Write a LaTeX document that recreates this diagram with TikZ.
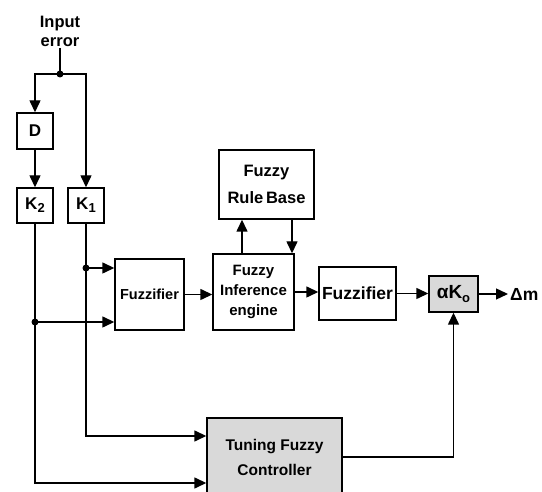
\documentclass[tikz,border=0pt]{standalone}
\usepackage{fontspec}
\setmainfont{Liberation Sans}
\usetikzlibrary{arrows.meta}
\begin{document}
\begin{tikzpicture}[x=1pt,y=-1pt, line width=1.4pt,
  box/.style={draw, line width=1.4pt, inner sep=0pt, align=center},
  arr/.style={-{Triangle[length=12pt,width=11pt]}},
  dot/.style={circle, fill, inner sep=0pt, minimum size=7pt},
  greybox/.style={box, fill=gray!30}]
\useasboundingbox (0,0) rectangle (542,492);
\clip (0,0) rectangle (542,492);
% input
\node[align=center, inner sep=1pt, font=\bfseries\fontsize{16.5}{19}\selectfont] (in) at (60,31) {Input\\error};
\node[dot] (j) at (60,74) {};
% gain boxes
\node[box, minimum width=36pt, minimum height=36pt, font=\bfseries\fontsize{17}{20}\selectfont] (D) at (35,131) {D};
\node[box, minimum width=36pt, minimum height=35pt, font=\bfseries\fontsize{17}{20}\selectfont] (K2) at (35,205.5) {K\raisebox{-0.35ex}{\fontsize{13}{13}\selectfont 2}};
\node[box, minimum width=36pt, minimum height=35pt, font=\bfseries\fontsize{17}{20}\selectfont] (K1) at (86,205.5) {K\raisebox{-0.35ex}{\fontsize{13}{13}\selectfont 1}};
% main chain
\node[box, minimum width=69pt, minimum height=71pt, font=\bfseries\fontsize{14.5}{18}\selectfont] (F1) at (149.5,294.5) {Fuzzifier};
\node[box, minimum width=81pt, minimum height=76pt, font=\bfseries\fontsize{15}{20}\selectfont] (I) at (253.5,292) {Fuzzy\\Inference\\engine};
\node[box, minimum width=95pt, minimum height=69pt, font=\bfseries\fontsize{16.5}{27}\selectfont] (R) at (266.5,184.5) {Fuzzy\\Rule\,Base};
\node[box, minimum width=77pt, minimum height=53pt, font=\bfseries\fontsize{17.5}{20}\selectfont] (F2) at (357.5,293.5) {Fuzzifier};
\node[greybox, minimum width=49pt, minimum height=36pt, font=\bfseries\fontsize{19}{22}\selectfont] (A) at (453.5,294) {αK\raisebox{-0.4ex}{\fontsize{13}{13}\selectfont o}};
\node[anchor=west, inner sep=1.5pt, font=\bfseries\fontsize{17.5}{20}\selectfont] (out) at (508,294) {Δm};
\node[greybox, minimum width=135pt, minimum height=78pt, font=\bfseries\fontsize{15.5}{25}\selectfont] (T) at (274.5,457) {Tuning Fuzzy\\Controller};
% branch dots
\node[dot] (d1) at (86,268) {};
\node[dot] (d2) at (35,322) {};
% connectors
\draw (in.south) -- (j.center);
\draw[arr] (j.center) -| (D.north);
\draw[arr] (j.center) -| (K1.north);
\draw[arr] (D) -- (K2);
\draw (K1.south) -- (d1.center);
\draw (K2.south) -- (d2.center);
\draw[arr] (d1.center) -- (d1.center -| F1.west);
\draw[arr] (d2.center) -- (d2.center -| F1.west);
\draw[arr] (d1.center) |- ([yshift=21pt]T.west);
\draw[arr] (d2.center) |- ([yshift=-26pt]T.west);
\draw[arr] (F1.east) -- (F1.east -| I.west);
\draw[arr] (I.east) -- (I.east -| F2.west);
\draw[arr] (F2.east) -- (F2.east -| A.west);
\draw[arr] (A.east) -- (out.west);
\draw[arr] (T.east) -| (A.south);
\draw[arr] ([xshift=-11.5pt]I.north) -- ([xshift=-11.5pt]I.north |- R.south);
\draw[arr] ([xshift=25.5pt]R.south) -- ([xshift=25.5pt]R.south |- I.north);
\end{tikzpicture}
\end{document}
